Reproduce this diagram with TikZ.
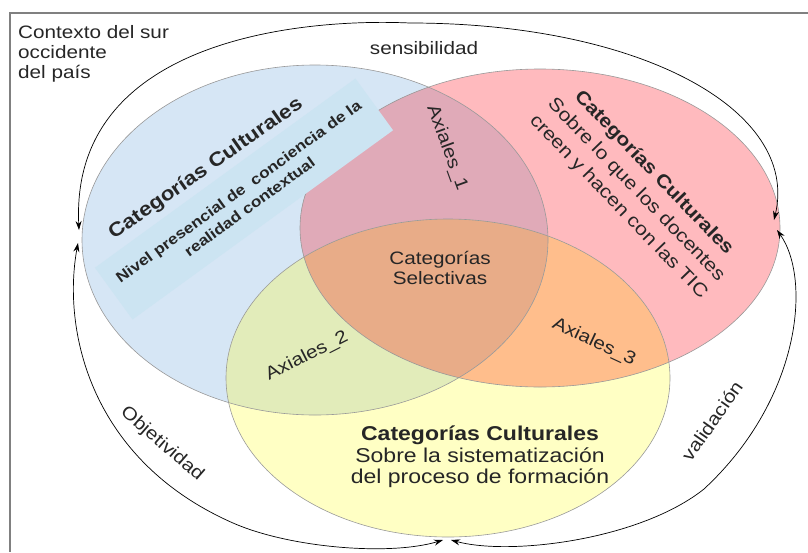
\documentclass[tikz,border=0pt]{standalone}
\usepackage{fontspec}
\setmainfont[FakeStretch=1.15]{Liberation Sans}
\usetikzlibrary{arrows.meta}

\definecolor{azul}{RGB}{214,230,245}
\definecolor{celeste}{RGB}{204,228,242}
\definecolor{rosa}{RGB}{255,186,190}
\definecolor{amarillo}{RGB}{255,255,196}
\definecolor{malva}{RGB}{224,170,184}
\definecolor{verde}{RGB}{226,236,186}
\definecolor{naranja}{RGB}{255,190,140}
\definecolor{centro}{RGB}{232,172,136}

% los tres conjuntos
\newcommand{\elAzul}{(315,240) ellipse [x radius=233, y radius=175]}
\newcommand{\elRosa}{(540,228) ellipse [x radius=240, y radius=159]}
\newcommand{\elAmarillo}{(448,378) ellipse [x radius=222, y radius=159]}

\begin{document}
\begin{tikzpicture}[x=1pt,y=-1pt,
  borde/.style={draw=black!40,line width=0.6pt},
  flecha/.style={{Stealth[length=9pt,width=6pt]}-{Stealth[length=9pt,width=6pt]},line width=0.7pt},
  texto/.style={inner sep=0pt,text=black!85,font=\fontsize{18}{20}\selectfont},
  titulo/.style={inner sep=0pt,text=black!85,align=center}]
\useasboundingbox (0,0) rectangle (808,552);
\draw[black!50,line width=1.5pt] (808,13) -- (10,13) -- (10,552); % marco

\fill[azul] \elAzul;
\fill[rosa] \elRosa;
\fill[amarillo] \elAmarillo;
\begin{scope}
\clip \elRosa;
\fill[naranja] \elAmarillo; % rosa y amarillo
\end{scope}
\begin{scope}
\clip \elAzul;
\fill[malva] \elRosa; % azul y rosa
\fill[verde] \elAmarillo; % azul y amarillo
\clip \elRosa;
\fill[centro] \elAmarillo; % los tres
\end{scope}
\draw[borde] \elAzul;
\draw[borde] \elRosa;
\draw[borde] \elAmarillo;

\node[fill=celeste,rotate=36,minimum width=322,minimum height=64,align=center,text=black!85,
  font=\bfseries\fontsize{15}{19}\selectfont] (nivel) at (244,199) {Nivel presencial de\ \ conciencia de la\\realidad contextual};

\node[texto,anchor=north west,align=left] (contexto) at (18,25) {Contexto del sur\\occidente\\del país};
\node[texto,align=center] (selectivas) at (440,268) {Categorías\\Selectivas};
\node[texto,rotate=-70] (ax1) at (447,148) {Axiales\_1};
\node[texto,rotate=27] (ax2) at (307,356) {Axiales\_2};
\node[texto,rotate=-25] (ax3) at (594,342) {Axiales\_3};

\node[titulo,rotate=35,font=\bfseries\fontsize{19.5}{22}\selectfont] (catAzul) at (206,169) {Categorías Culturales};
\node[titulo,rotate=-46,font=\fontsize{18.5}{24.5}\selectfont] (catRosa) at (636,190) {\textbf{Categorías Culturales}\\Sobre lo que los docentes\\creen y hacen con las TIC};
\node[titulo,font=\fontsize{20}{21.5}\selectfont] (catAmarillo) at (480,457) {\textbf{Categorías Culturales}\\Sobre la sistematización\\del proceso de formación};

\coordinate (azulO) at (79,230);
\coordinate (azulO2) at (78,243);
\coordinate (rosaE) at (774,220);
\coordinate (rosaE2) at (777,230);
\coordinate (amaS) at (443,540);
\coordinate (amaS2) at (451,540);

\draw[flecha] (azulO) .. controls (70,40) and (300,18) .. (410,23) .. controls (640,23) and (800,110) .. (rosaE);
\draw[flecha] (azulO2) .. controls (62,330) and (90,460) .. (233,523) .. controls (290,548) and (390,556) .. (amaS);
\draw[flecha] (rosaE2) .. controls (812,280) and (800,400) .. (704,489) .. controls (640,540) and (510,556) .. (amaS2);

\node[texto] (sensi) at (424,48) {sensibilidad};
\node[texto,rotate=-41] (obje) at (162,444) {Objetividad};
\node[texto,rotate=55] (vali) at (712,421) {validación};
\end{tikzpicture}
\end{document}
